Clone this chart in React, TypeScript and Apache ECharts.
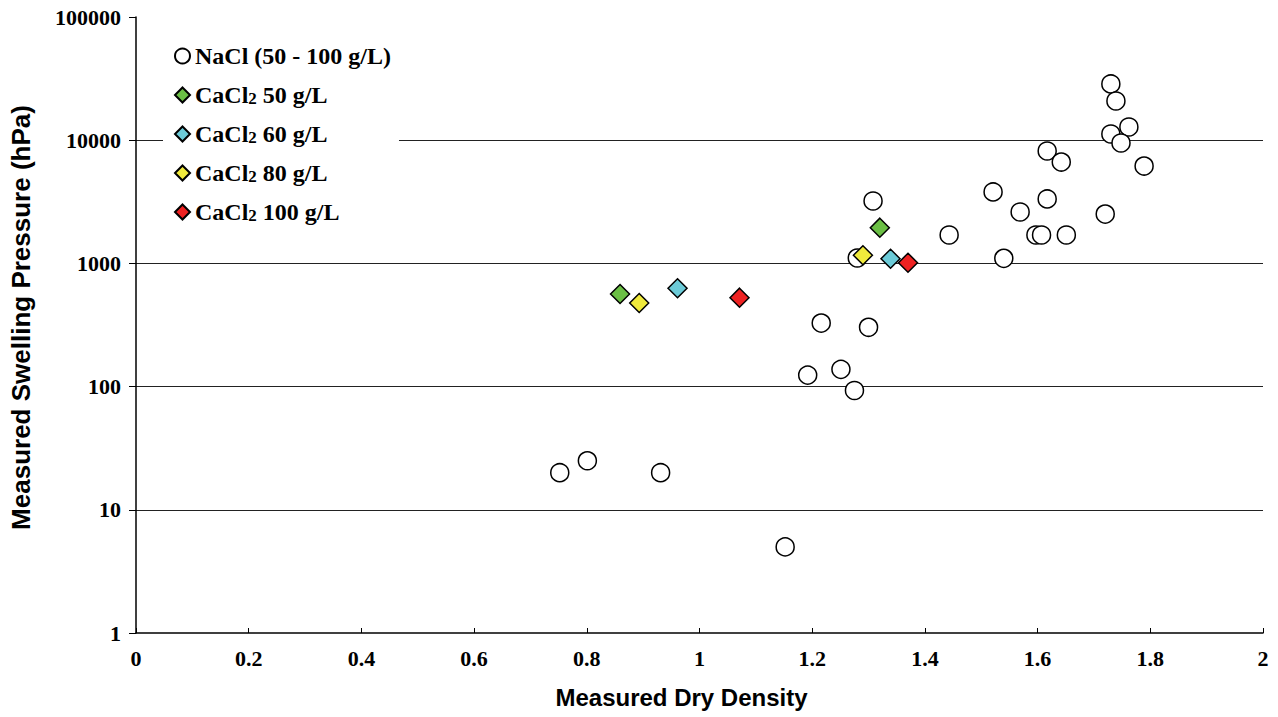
import React, { useEffect, useRef } from "react";
import * as echarts from "echarts";

const naclDensity = [0.752, 0.801, 0.931, 1.152, 1.192, 1.216, 1.251, 1.275, 1.3, 1.28, 1.308, 1.443, 1.521, 1.54, 1.569, 1.597, 1.607, 1.617, 1.617, 1.642, 1.651, 1.72, 1.73, 1.739, 1.73, 1.762, 1.748, 1.789];
const naclPressure = [20, 25, 20, 5, 124, 328, 138, 93, 303, 1106, 3210, 1700, 3800, 1100, 2614, 1700, 1700, 8170, 3334, 6650, 1700, 2515, 28600, 20800, 11230, 12800, 9490, 6170];

const ca50Density = [0.859, 1.32];
const ca50Pressure = [564, 1950];
const ca60Density = [0.961, 1.339];
const ca60Pressure = [628, 1092];
const ca80Density = [0.893, 1.29];
const ca80Pressure = [477, 1164];
const ca100Density = [1.071, 1.37];
const ca100Pressure = [527, 1013];

const seriesNames = ["NaCl (50 - 100 g/L)", "CaCl₂ 50 g/L", "CaCl₂ 60 g/L", "CaCl₂ 80 g/L", "CaCl₂ 100 g/L"];
const seriesColors = ["#ffffff", "#6bbf45", "#6ccbd8", "#f0ea3c", "#ee2222"];

const xTicks = { min: 0, max: 2, interval: 0.2 };
const yTicks = { min: 1, max: 100000 };

const zip = (xs: number[], ys: number[]) => xs.map((x, i) => [x, ys[i]]);

export default function App() {
  const ref = useRef<HTMLDivElement>(null);
  useEffect(() => {
    if (!ref.current) return;
    const chart = echarts.init(ref.current, undefined, { renderer: "svg" });
    const serif = "'Liberation Serif', 'Times New Roman', serif";
    const sans = "'Liberation Sans', Arial, sans-serif";
    const datasets = [
      zip(naclDensity, naclPressure),
      zip(ca50Density, ca50Pressure),
      zip(ca60Density, ca60Pressure),
      zip(ca80Density, ca80Pressure),
      zip(ca100Density, ca100Pressure),
    ];
    chart.setOption({
      animation: false,
      backgroundColor: "#ffffff",
      grid: { left: 136, right: 15, top: 17, bottom: 84, containLabel: false },
      legend: {
        orient: "vertical",
        left: 163,
        top: 38,
        padding: [6, 8, 6, 11],
        backgroundColor: "#ffffff",
        itemGap: 15,
        itemWidth: 15,
        itemHeight: 15,
        data: seriesNames.map((n, i) => ({ name: n, icon: i === 0 ? "circle" : "diamond" })),
        formatter: (name: string) => name.replace("₂", "{s|2}"),
        textStyle: {
          fontFamily: serif,
          fontWeight: "bold",
          fontSize: 24,
          color: "#000",
          rich: {
            s: { fontFamily: serif, fontWeight: "bold", fontSize: 17, color: "#000", padding: [6, 0, 0, 0] },
          },
        },
      },
      xAxis: {
        type: "value",
        min: xTicks.min,
        max: xTicks.max,
        interval: xTicks.interval,
        name: "Measured Dry Density",
        nameLocation: "middle",
        nameGap: 52,
        nameTextStyle: { fontFamily: sans, fontWeight: "bold", fontSize: 24, color: "#000", padding: [0, 36, 0, 0] },
        axisLine: { lineStyle: { color: "#000", width: 1.5 } },
        axisTick: { show: true, inside: true, length: 5, lineStyle: { color: "#000" } },
        axisLabel: {
          fontFamily: serif,
          fontWeight: "bold",
          fontSize: 22,
          color: "#000",
          margin: 14,
          formatter: (v: number) => String(Math.round(v * 10) / 10),
        },
        splitLine: { show: false },
      },
      yAxis: {
        type: "log",
        logBase: 10,
        min: yTicks.min,
        max: yTicks.max,
        name: "Measured Swelling Pressure (hPa)",
        nameLocation: "middle",
        nameGap: 102,
        nameTextStyle: { fontFamily: sans, fontWeight: "bold", fontSize: 26, color: "#000", padding: [0, 0, 0, 15] },
        axisLine: { show: true, lineStyle: { color: "#000", width: 1.5 } },
        axisTick: { show: true, length: 7, lineStyle: { color: "#000" } },
        axisLabel: {
          fontFamily: serif,
          fontWeight: "bold",
          fontSize: 22,
          color: "#000",
          margin: 15,
          formatter: (v: number) => String(Math.round(v)),
        },
        splitLine: { show: true, showMinLine: false, showMaxLine: false, lineStyle: { color: "#222", width: 1 } },
      },
      series: seriesNames.map((n, i) => ({
        name: n,
        type: "scatter",
        symbol: i === 0 ? "circle" : "diamond",
        symbolSize: i === 0 ? 18 : 19,
        data: datasets[i],
        itemStyle: { color: seriesColors[i], borderColor: "#000", borderWidth: 1.5, opacity: 1 },
        z: 2 + i,
      })),
    });
    return () => chart.dispose();
  }, []);
  return <div ref={ref} style={{ position: "fixed", left: 0, top: 0, width: 1278, height: 717 }} />;
}
